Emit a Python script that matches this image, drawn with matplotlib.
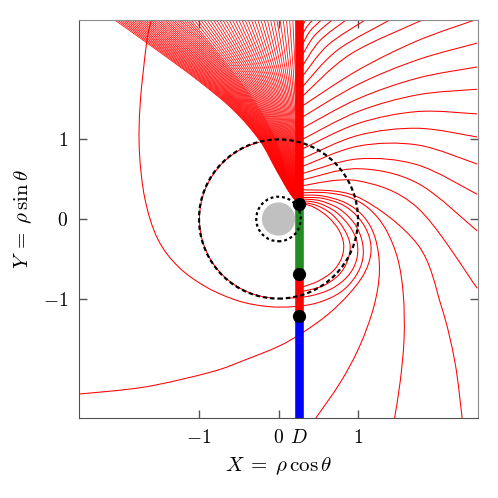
import numpy as np
import matplotlib.pyplot as plt
from matplotlib.patches import Circle, Arc, PathPatch
from matplotlib.path import Path

plt.rcParams['mathtext.fontset'] = 'cm'
plt.rcParams['font.family'] = 'serif'
plt.rcParams['font.serif'] = ['DejaVu Serif']

# position of the line X = D and the points marked on it
D = 0.26
dot_y = [0.19, -0.685, -1.215]
seg_edges = [2.5, 0.19, -0.685, -1.215, -2.5]
seg_colors = ['#ff0000', '#228b22', '#ff0000', '#0000ff']

r_core = 0.2      # grey disc
r_inner = 0.28    # dotted circle
r_outer = 1.0     # dashed circle

# rays leaving X = D towards the right
rays = [
    # leave through the top edge
    [(0.30, 2.42), (0.34, 2.5)],
    [(0.30, 2.31), (0.352, 2.41), (0.43, 2.5)],
    [(0.30, 2.19), (0.396, 2.36), (0.54, 2.5)],
    [(0.30, 2.06), (0.45, 2.30), (0.675, 2.5)],
    [(0.30, 1.92), (0.52, 2.24), (0.85, 2.5)],
    [(0.30, 1.79), (0.616, 2.18), (1.09, 2.5)],
    [(0.30, 1.66), (0.74, 2.12), (1.40, 2.5)],
    [(0.30, 1.54), (0.904, 2.07), (1.81, 2.5)],
    # leave through the right edge
    [(0.30, 1.42), (1.0, 1.87), (1.75, 2.24), (2.5, 2.51)],
    [(0.30, 1.28), (1.0, 1.69), (1.75, 2.00), (2.5, 2.21)],
    [(0.30, 1.14), (1.0, 1.51), (1.75, 1.77), (2.5, 1.91)],
    [(0.30, 1.00), (1.0, 1.35), (1.75, 1.56), (2.5, 1.63)],
    [(0.30, 0.88), (1.0, 1.20), (1.75, 1.35), (2.5, 1.32)],
    [(0.30, 0.76), (1.0, 1.05), (1.75, 1.14), (2.5, 1.03)],
    [(0.30, 0.66), (1.0, 0.915), (1.75, 0.93), (2.5, 0.69)],
    [(0.30, 0.57), (1.0, 0.755), (1.75, 0.68), (2.5, 0.31)],
    [(0.30, 0.49), (1.0, 0.632), (1.75, 0.45), (2.5, -0.15)],
    [(0.30, 0.42), (1.0, 0.48), (1.75, 0.14), (2.5, -0.87)],
    # leave through the bottom edge
    [(0.30, 0.37), (1.0, 0.275), (1.75, -0.32), (2.05, -1.1), (2.22, -1.8), (2.31, -2.5)],
    [(0.30, 0.33), (0.6, 0.33), (0.9, 0.27), (1.15, 0.12), (1.35, -0.13), (1.5, -0.5), (1.57, -0.95),
     (1.58, -1.5), (1.53, -2.05), (1.46, -2.5)],
    [(0.30, 0.30), (0.55, 0.29), (0.85, 0.20), (1.08, 0.02), (1.22, -0.25), (1.27, -0.65), (1.2, -1.1),
     (1.02, -1.6), (0.78, -2.05), (0.47, -2.5)],
    # leaves through the left edge
    [(0.30, 0.27), (0.55, 0.26), (0.82, 0.17), (1.02, 0.0), (1.14, -0.22), (1.16, -0.45), (1.07, -0.7),
     (0.88, -0.95), (0.62, -1.2), (0.3, -1.43), (0.0, -1.6), (-0.42, -1.77), (-0.84, -1.92),
     (-1.68, -2.11), (-2.52, -2.2)],
    # goes round once and up the left side
    [(0.30, 0.25), (0.52, 0.23), (0.76, 0.13), (0.95, -0.05), (1.05, -0.27), (1.06, -0.5), (0.97, -0.72),
     (0.78, -0.92), (0.5, -1.05), (0.2, -1.1), (-0.13, -1.1), (-0.5, -1.03), (-0.9, -0.86),
     (-1.26, -0.6), (-1.52, -0.25), (-1.68, 0.25), (-1.75, 0.85), (-1.74, 1.45), (-1.66, 2.21),
     (-1.6, 2.5)],
    # joins the dashed circle
    [(0.30, 0.23), (0.5, 0.20), (0.72, 0.09), (0.9, -0.1), (0.99, -0.3), (0.98, -0.52), (0.87, -0.72),
     (0.66, -0.88), (0.38, -0.97), (0.1, -0.995)],
    # loops inside the dashed circle
    [(0.30, 0.21), (0.48, 0.17), (0.67, 0.06), (0.82, -0.12), (0.9, -0.32), (0.87, -0.52), (0.76, -0.7),
     (0.56, -0.84), (0.3, -0.91)],
    [(0.30, 0.20), (0.46, 0.14), (0.63, 0.02), (0.76, -0.14), (0.82, -0.32), (0.79, -0.5), (0.68, -0.66),
     (0.5, -0.78), (0.3, -0.855)],
]
# the ray that creeps along the dashed circle on the left (angles in degrees)
creep_from, creep_to = 104, 264

# fan of rays going up-left from the lowest point: left edge and top ends
fan_edge_x = [0.26, 0.14, -0.03, -0.24, -0.57, -1.00, -1.50, -2.06]
fan_edge_y = [0.19, 0.33, 0.62, 0.99, 1.37, 1.73, 2.10, 2.50]
fan_top_x = [-2.06, -2.03, -2.00, -1.97, -1.94, -1.91, -1.88, -1.85, -1.82, -1.79, -1.76,
             -1.73, -1.70, -1.67, -1.64, -1.61, -1.58, -1.55, -1.52, -1.49, -1.46, -1.43,
             -1.40, -1.37, -1.34, -1.31, -1.28, -1.25, -1.22, -1.19, -1.16, -1.13, -1.10,
             -1.06, -1.02, -0.98, -0.94, -0.90, -0.86, -0.82, -0.78, -0.74, -0.70, -0.66,
             -0.62, -0.58, -0.54, -0.50, -0.46, -0.42, -0.38, -0.34, -0.30, -0.26, -0.22,
             -0.18, -0.14, -0.10, -0.06, -0.02, 0.02, 0.06, 0.10, 0.14, 0.18, 0.22]


def smooth_path(xs, ys):
    # cubic Bezier pieces through the given points (Catmull-Rom tangents)
    p = np.column_stack([xs, ys])
    if len(p) < 3:
        return Path(p)
    ext = np.vstack([p[0], p, p[-1]])
    verts = [p[0]]
    codes = [Path.MOVETO]
    for i in range(1, len(ext) - 2):
        p0, p1, p2, p3 = ext[i-1], ext[i], ext[i+1], ext[i+2]
        verts += [p1 + (p2 - p0)/6, p2 - (p3 - p1)/6, p2]
        codes += [Path.CURVE4]*3
    return Path(verts, codes)


def draw_ray(ax, xs, ys, lw):
    ax.add_patch(PathPatch(smooth_path(xs, ys), fill=False, edgecolor='#ff0000',
                           lw=lw, zorder=2))


fig = plt.figure(figsize=(4.98, 4.98), dpi=100)
ax = fig.add_axes([79/498, 80/498, 399/498, 398/498])

# thin red rays
for r in rays:
    xs, ys = zip(*r)
    draw_ray(ax, xs, ys, 0.75)
ax.add_patch(Arc((0, 0), 2*0.995, 2*0.995, theta1=creep_from, theta2=creep_to,
                 color='#ff0000', lw=0.75, zorder=2))

# the fan
ex = np.array(fan_edge_x)
ey = np.array(fan_edge_y)
for xt in fan_top_x:
    s = (xt - D) / (ex[-1] - D)
    draw_ray(ax, D + s*(ex - D), ey, 0.55)

# thick coloured line X = D
for k in range(4):
    ax.plot([D, D], [seg_edges[k], seg_edges[k+1]], color=seg_colors[k], lw=6.2,
            solid_capstyle='butt', zorder=3)

ax.add_patch(Circle((0, 0), r_core, color='#c0c0c0', zorder=3))
ax.add_patch(Circle((0, 0), r_inner, fill=False, color='black', lw=1.6,
                    ls=(0, (1.3, 1.3)), zorder=4))
ax.add_patch(Circle((0, 0), r_outer, fill=False, color='black', lw=1.6,
                    ls=(0, (2.0, 1.3)), zorder=4))
ax.plot([D]*3, dot_y, 'o', color='black', ms=8.5, zorder=5)

ax.set_xlim(-2.51, 2.51)
ax.set_ylim(-2.5, 2.5)
ax.set_xticks([-1, 0, D, 1])
ax.set_xticklabels(['$-1$', '$0$', '$D$', '$1$'])
ax.set_yticks([-1, 0, 1])
ax.set_yticklabels(['$-1$', '$0$', '$1$'])
ax.tick_params(direction='in', top=True, right=True, length=5.5, width=1,
               color='#555555', labelsize=14, pad=8)
for side in ['left', 'bottom']:
    ax.spines[side].set_color('#505050')
for side in ['top', 'right']:
    ax.spines[side].set_color('#8c8c8c')
ax.set_xlabel(r'$X\;=\;\rho\,\cos\theta$', fontsize=15, labelpad=6)
ax.set_ylabel(r'$Y\;=\;\rho\,\sin\theta$', fontsize=15, labelpad=6)

plt.savefig('out.png')
